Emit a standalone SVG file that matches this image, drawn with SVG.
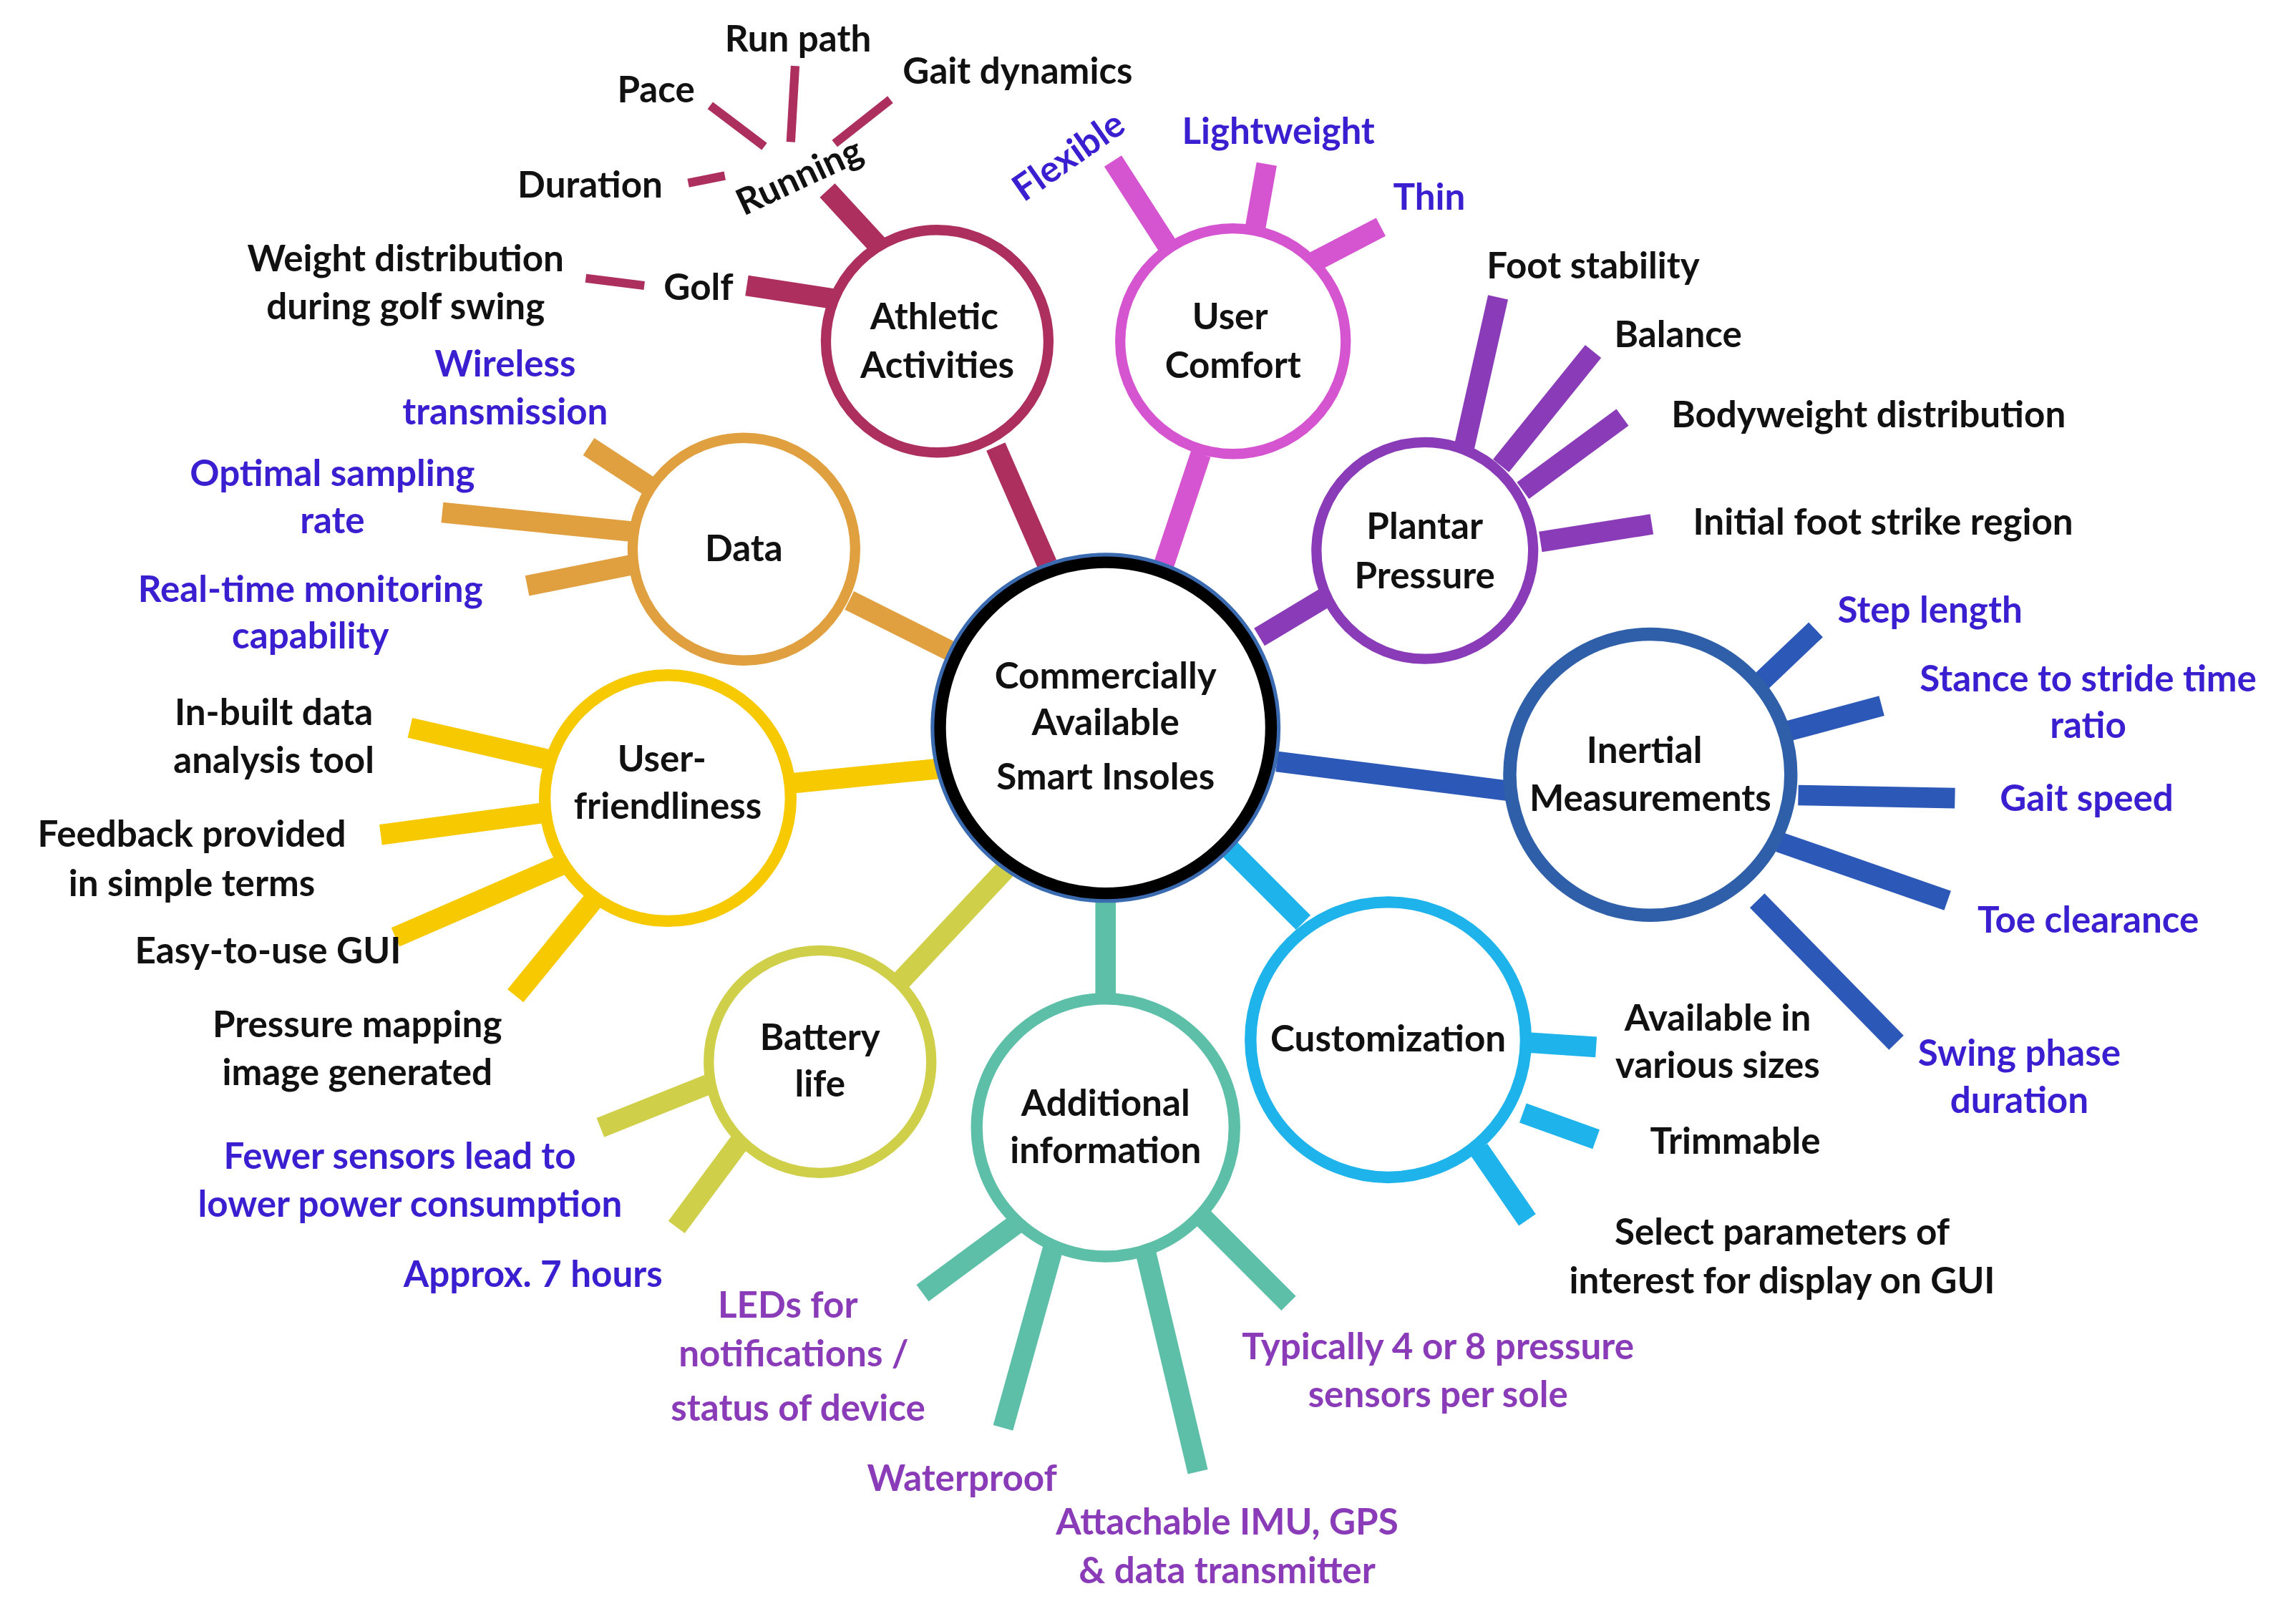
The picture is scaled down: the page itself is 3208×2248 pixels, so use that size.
<svg xmlns="http://www.w3.org/2000/svg" width="3208" height="2248" viewBox="0 0 3208 2248">
<style>
text{font-family:Lato,"Open Sans","Liberation Sans",sans-serif;font-weight:700;font-size:25px;text-anchor:middle;fill:#111}
.b{fill:#3a1fd0}.p{fill:#8a3cb8}
line{stroke-linecap:butt}
circle{fill:#fff}
</style>
<rect width="3208" height="2248" fill="#fff"/>
<g transform="scale(2.046)">
<g id="connectors" stroke-width="14">
<g stroke="#ad2f5e"><line x1="715" y1="385" x2="680" y2="305"/><line x1="575" y1="205" x2="510" y2="195"/><line x1="600" y1="168" x2="565" y2="130"/>
<line x1="440" y1="195" x2="400" y2="190" stroke-width="6"/><line x1="470" y1="125" x2="495" y2="120" stroke-width="6"/><line x1="485" y1="72" x2="522" y2="100" stroke-width="6"/><line x1="543" y1="45" x2="540" y2="97" stroke-width="6"/><line x1="608" y1="68" x2="570" y2="98" stroke-width="6"/></g>
<g stroke="#d554d0"><line x1="795" y1="385" x2="820" y2="310"/><line x1="760" y1="110" x2="800" y2="172"/><line x1="865" y1="112" x2="857" y2="157"/><line x1="943" y1="155" x2="895" y2="180"/></g>
<g stroke="#8a3cb8"><line x1="860" y1="435" x2="910" y2="405"/><line x1="1023" y1="203" x2="1000" y2="305"/><line x1="1088" y1="240" x2="1025" y2="318"/><line x1="1108" y1="285" x2="1040" y2="335"/><line x1="1128" y1="358" x2="1052" y2="370"/></g>
<g stroke="#2c58b8"><line x1="872" y1="520" x2="1030" y2="540"/><line x1="1240" y1="430" x2="1200" y2="468"/><line x1="1285" y1="482" x2="1218" y2="500"/><line x1="1335" y1="545" x2="1228" y2="543"/><line x1="1330" y1="615" x2="1215" y2="575"/><line x1="1295" y1="712" x2="1200" y2="615"/></g>
<g stroke="#1eb3ea"><line x1="840" y1="580" x2="890" y2="630"/><line x1="1090" y1="715" x2="1045" y2="712"/><line x1="1090" y1="778" x2="1040" y2="760"/><line x1="1043" y1="833" x2="1010" y2="785"/></g>
<g stroke="#5ebfa8"><line x1="755" y1="612" x2="755" y2="680"/><line x1="630" y1="883" x2="695" y2="835"/><line x1="685" y1="975" x2="722" y2="842"/><line x1="818" y1="1005" x2="780" y2="845"/><line x1="880" y1="890" x2="820" y2="830"/></g>
<g stroke="#cfcf4a"><line x1="690" y1="590" x2="615" y2="670"/><line x1="410" y1="770" x2="485" y2="740"/><line x1="462" y1="838" x2="505" y2="780"/></g>
<g stroke="#f7c900"><line x1="640" y1="525" x2="540" y2="535"/><line x1="280" y1="497" x2="380" y2="520"/><line x1="260" y1="570" x2="372" y2="555"/><line x1="270" y1="640" x2="385" y2="590"/><line x1="352" y1="680" x2="405" y2="615"/></g>
<g stroke="#e0a040"><line x1="650" y1="445" x2="580" y2="410"/><line x1="402" y1="305" x2="448" y2="335"/><line x1="302" y1="350" x2="432" y2="363"/><line x1="360" y1="400" x2="435" y2="385"/></g>
</g>
<g id="center"><circle cx="755" cy="497" r="118" stroke="#3a6ab0" stroke-width="3"/><circle cx="755" cy="497" r="113" stroke="#000" stroke-width="8"/>
<text x="755" y="470">Commercially</text><text x="755" y="502">Available</text><text x="755" y="539">Smart Insoles</text></g>
<g id="athletic"><circle cx="640" cy="233" r="76" stroke="#ad2f5e" stroke-width="7"/><text x="638" y="225">Athletic</text><text x="640" y="258">Activities</text>
<text x="477" y="205">Golf</text><text x="277" y="185">Weight distribution</text><text x="277" y="218">during golf swing</text>
<text x="546" y="129" transform="rotate(-25 546 121)">Running</text><text x="403" y="135">Duration</text><text x="448" y="70">Pace</text><text x="545" y="35">Run path</text><text x="695" y="57">Gait dynamics</text></g>
<g id="comfort"><circle cx="842" cy="233" r="77" stroke="#d554d0" stroke-width="7"/><text x="840" y="225">User</text><text x="842" y="258">Comfort</text>
<text class="b" x="730" y="115" transform="rotate(-35 730 107)">Flexible</text><text class="b" x="873" y="98">Lightweight</text><text class="b" x="976" y="143">Thin</text></g>
<g id="plantar"><circle cx="973" cy="376" r="74" stroke="#8a3cb8" stroke-width="7"/><text x="973" y="368">Plantar</text><text x="973" y="402">Pressure</text>
<text x="1088" y="190">Foot stability</text><text x="1146" y="237">Balance</text><text x="1276" y="292">Bodyweight distribution</text><text x="1286" y="365">Initial foot strike region</text></g>
<g id="inertial"><circle cx="1127" cy="529" r="96" stroke="#2e5fa8" stroke-width="9"/><text x="1123" y="521">Inertial</text><text x="1127" y="554">Measurements</text>
<text class="b" x="1318" y="425">Step length</text><text class="b" x="1426" y="472">Stance to stride time</text><text class="b" x="1426" y="504">ratio</text><text class="b" x="1425" y="554">Gait speed</text><text class="b" x="1426" y="637">Toe clearance</text><text class="b" x="1379" y="728">Swing phase</text><text class="b" x="1379" y="760">duration</text></g>
<g id="customization"><circle cx="948" cy="710" r="94" stroke="#1eb3ea" stroke-width="8"/><text x="948" y="718">Customization</text>
<text x="1173" y="704">Available in</text><text x="1173" y="736">various sizes</text><text x="1185" y="788">Trimmable</text><text x="1217" y="850">Select parameters of</text><text x="1217" y="883">interest for display on GUI</text></g>
<g id="additional"><circle cx="755" cy="770" r="88" stroke="#5ebfa8" stroke-width="8"/><text x="755" y="762">Additional</text><text x="755" y="794">information</text>
<text class="p" x="538" y="900">LEDs for</text><text class="p" x="542" y="933">notifications /</text><text class="p" x="545" y="970">status of device</text><text class="p" x="657" y="1018">Waterproof</text><text class="p" x="838" y="1048">Attachable IMU, GPS</text><text class="p" x="838" y="1081">&amp; data transmitter</text><text class="p" x="982" y="928">Typically 4 or 8  pressure</text><text class="p" x="982" y="961">sensors per sole</text></g>
<g id="battery"><circle cx="560" cy="725" r="76" stroke="#cfcf4a" stroke-width="7"/><text x="560" y="717">Battery</text><text x="560" y="749">life</text>
<text class="b" x="273" y="798">Fewer sensors lead to</text><text class="b" x="280" y="831">lower power consumption</text><text class="b" x="364" y="879">Approx. 7 hours</text></g>
<g id="userfriendliness"><circle cx="456" cy="545" r="84" stroke="#f7c900" stroke-width="8"/><text x="452" y="527">User-</text><text x="456" y="559">friendliness</text>
<text x="187" y="495">In-built data</text><text x="187" y="528">analysis tool</text><text x="131" y="578">Feedback provided</text><text x="131" y="612">in simple terms</text><text x="183" y="658">Easy-to-use GUI</text><text x="244" y="708">Pressure mapping</text><text x="244" y="741">image generated</text></g>
<g id="data"><circle cx="508" cy="375" r="76" stroke="#e0a040" stroke-width="7"/><text x="508" y="383">Data</text>
<text class="b" x="345" y="257">Wireless</text><text class="b" x="345" y="290">transmission</text><text class="b" x="227" y="332">Optimal sampling</text><text class="b" x="227" y="364">rate</text><text class="b" x="212" y="411">Real-time monitoring</text><text class="b" x="212" y="443">capability</text></g>
</g>
</svg>
